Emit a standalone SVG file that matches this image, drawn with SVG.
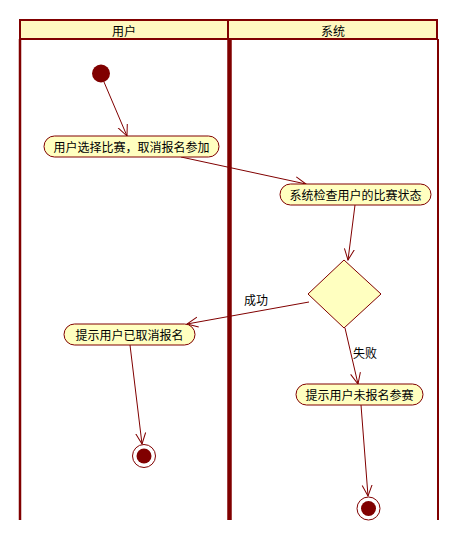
<svg xmlns="http://www.w3.org/2000/svg" width="459" height="541" viewBox="0 0 459 541">
<style>
.lane{fill:none;stroke:#800000}
.hdr{fill:#fff8c0;stroke:#800000;stroke-width:2}
.act{fill:#ffffc0;stroke:#800000;stroke-width:1}
.t{font-family:"Noto Sans CJK SC","Noto Sans",sans-serif;font-size:12px;fill:#000;text-anchor:middle;dominant-baseline:central}
.edge{fill:none;stroke:#800000;stroke-width:1}
.arr{fill:none;stroke:#800000;stroke-width:1}
</style>
<defs>
<marker id="ah" viewBox="0 0 12 12" refX="11" refY="6" markerWidth="12" markerHeight="12" markerUnits="userSpaceOnUse" orient="auto">
<path d="M0,1 L11,6 L0,11" class="arr"/>
</marker>
</defs>
<rect width="459" height="541" fill="#fff"/>
<g id="swimlanes">
<rect class="hdr" x="20" y="20" width="417" height="19"/>
<line x1="228" y1="20" x2="228" y2="39" stroke="#800000" stroke-width="2"/>
<line x1="20" y1="39" x2="20" y2="520" stroke="#800000" stroke-width="2.5"/>
<line x1="229.5" y1="39" x2="229.5" y2="520" stroke="#800000" stroke-width="4.5"/>
<line x1="438" y1="39" x2="438" y2="520" stroke="#800000" stroke-width="2"/>
<text class="t" x="124" y="30">用户</text>
<text class="t" x="333" y="30">系统</text>
</g>
<g id="connectors">
<line class="edge" x1="104" y1="82" x2="127" y2="136" marker-end="url(#ah)"/>
<line class="edge" x1="181" y1="157" x2="306" y2="184" marker-end="url(#ah)"/>
<line class="edge" x1="355" y1="205" x2="348" y2="260" marker-end="url(#ah)"/>
<line class="edge" x1="309" y1="302" x2="187" y2="324" marker-end="url(#ah)"/>
<line class="edge" x1="345" y1="328" x2="358" y2="384" marker-end="url(#ah)"/>
<line class="edge" x1="130" y1="345" x2="142" y2="444" marker-end="url(#ah)"/>
<line class="edge" x1="361" y1="405" x2="368" y2="496" marker-end="url(#ah)"/>
<text class="t" x="256" y="299">成功</text>
<text class="t" x="365" y="352">失败</text>
</g>
<g id="start">
<circle cx="101" cy="73.5" r="9" fill="#800000"/>
</g>
<g id="act1">
<rect class="act" x="44" y="136" width="175" height="21" rx="10.5"/>
<text class="t" x="131.5" y="146.5">用户选择比赛，取消报名参加</text>
</g>
<g id="act2">
<rect class="act" x="280" y="184" width="151" height="21" rx="10.5"/>
<text class="t" x="355.5" y="194.5">系统检查用户的比赛状态</text>
</g>
<g id="decision">
<polygon points="344,260 381,294 344,328 308,294" fill="#ffffc0" stroke="#800000" stroke-width="1"/>
</g>
<g id="act3">
<rect class="act" x="64" y="324" width="131" height="21" rx="10.5"/>
<text class="t" x="129.5" y="334.5">提示用户已取消报名</text>
</g>
<g id="act4">
<rect class="act" x="296" y="384" width="127" height="21" rx="10.5"/>
<text class="t" x="359.5" y="394.5">提示用户未报名参赛</text>
</g>
<g id="end1">
<circle cx="144" cy="456" r="11.5" fill="#fff" stroke="#800000" stroke-width="1"/>
<circle cx="144" cy="456" r="7.5" fill="#800000"/>
</g>
<g id="end2">
<circle cx="368.5" cy="508.5" r="11.5" fill="#fff" stroke="#800000" stroke-width="1"/>
<circle cx="368.5" cy="508.5" r="7.5" fill="#800000"/>
</g>
</svg>
